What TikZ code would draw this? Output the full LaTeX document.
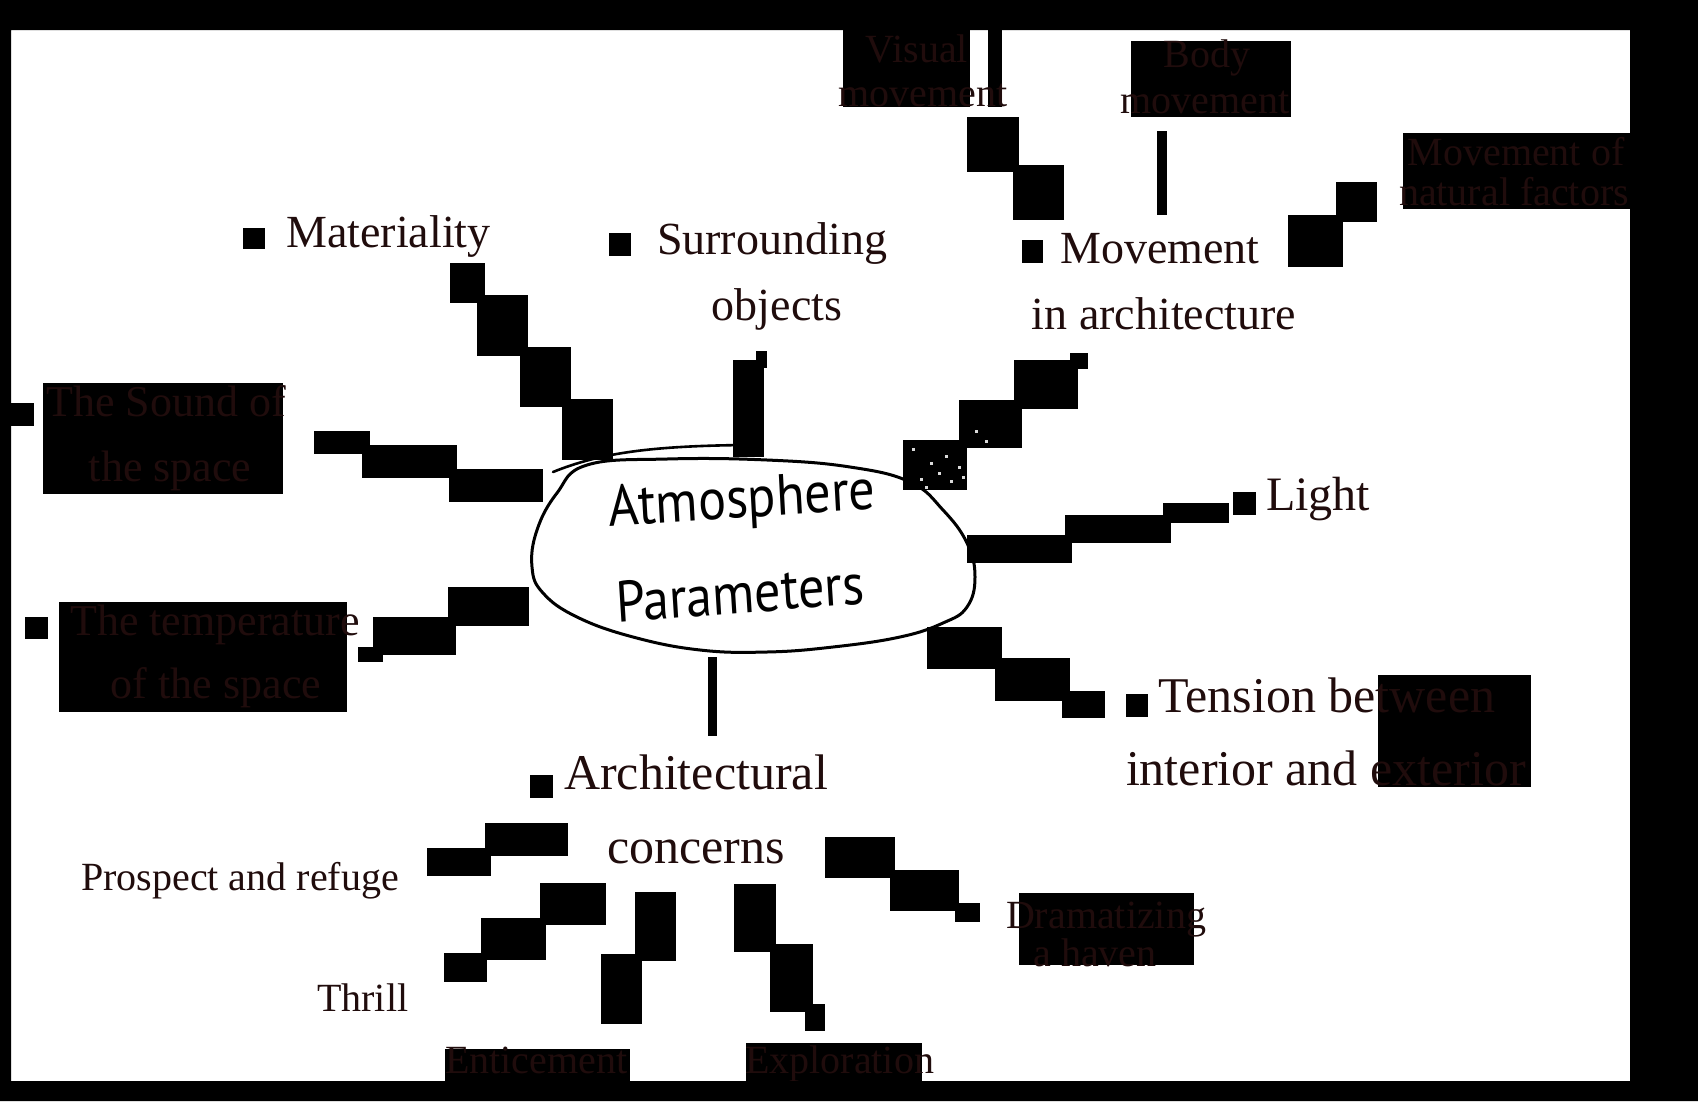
\documentclass[tikz,border=0pt]{standalone}
\usepackage{fontspec}
\setmainfont{Liberation Serif}
\newfontfamily\hand{PT Sans}
\definecolor{ink}{RGB}{32,12,12}
\tikzset{
  lbl/.style={text=ink, inner sep=0pt, anchor=base},
  lblw/.style={text=ink, inner sep=0pt, anchor=base west},
  fA/.style={font=\fontsize{40}{44}\selectfont},
  fB/.style={font=\fontsize{44}{48}\selectfont},
  fC/.style={font=\fontsize{46}{50}\selectfont},
  fD/.style={font=\fontsize{48}{52}\selectfont},
  fE/.style={font=\fontsize{50}{54}\selectfont},
  handtxt/.style={text=black, inner sep=0pt, font=\hand\fontsize{58}{60}\selectfont, xscale=0.9},
  outline/.style={line width=3pt, draw=black},
}
\begin{document}
\begin{tikzpicture}[x=1pt,y=-1pt]
\useasboundingbox (0,0) rectangle (1698,1101);
% background
\fill[white] (0,0) rectangle (1698,1101);
% text boxes, bullets and stepped connectors
\foreach \a/\b/\c/\d in {
  43/383/283/494, 59/602/347/712, 843/28/970/107, 988/28/1002/107,
  1131/41/1291/117, 1403/133/1630/209, 1378/675/1531/787, 1019/893/1194/965,
  445/1049/630/1082, 746/1043/922/1082,
  243/228/265/249, 609/233/631/256, 1022/240/1043/263, 1233/492/1256/515,
  1126/694/1148/717, 530/775/553/798, 5/403/34/426, 25/617/48/639,
  450/263/485/303, 477/295/528/356, 520/347/571/407, 562/399/613/460,
  733/360/764/457, 756/351/767/368,
  314/431/370/454, 362/445/457/478, 449/469/543/502,
  358/647/383/662, 373/617/456/655, 448/587/529/626,
  903/440/967/490, 959/400/1022/448, 1014/360/1078/409, 1070/353/1088/369,
  967/535/1072/563, 1065/515/1171/543, 1163/503/1229/523,
  927/627/1002/669, 995/658/1070/701, 1062/691/1105/718,
  708/657/717/736,
  967/117/1019/172, 1013/165/1064/220,
  1157/131/1167/215,
  1336/182/1377/222, 1288/215/1343/267,
  427/848/491/876, 485/823/568/856,
  444/953/487/982, 481/918/546/960, 540/883/606/925,
  635/892/676/961, 601/954/642/1024,
  734/884/776/952, 770/944/813/1012, 805/1004/825/1031,
  825/837/895/878, 890/870/959/911, 955/903/980/922}
  {\fill[black] (\a,\b) rectangle (\c,\d);}
% speckles on the movement connector
\foreach \px/\py in {912/448, 930/462, 945/455, 920/478, 950/480, 938/472, 958/466, 925/486, 985/440, 975/430, 962/476}
  {\fill[white!85!black] (\px,\py) rectangle ++(2.5,2.5);}
% labels
\node[lblw,fC] (mat) at (286,247) {Materiality};
\node[lbl,fC] (sur1) at (772,254) {Surrounding};
\node[lbl,fC] (sur2) at (777,320) {objects};
\node[lbl,fC] (mov1) at (1160,263) {Movement};
\node[lbl,fC] (mov2) at (1164,329) {in architecture};
\node[lblw,fD] (lig) at (1266,510) {Light};
\node[lbl,fE] (ten1) at (1327,712) {Tension between};
\node[lbl,fE] (ten2) at (1326,785) {interior and exterior};
\node[lbl,fE] (arc1) at (696,789) {Architectural};
\node[lbl,fE] (arc2) at (696,863) {concerns};
\node[lblw,fA] (pro) at (81,890) {Prospect and refuge};
\node[lblw,fA] (thr) at (317,1011) {Thrill};
\node[lblw,fA] (ent) at (445,1073) {Enticement};
\node[lblw,fA] (exp) at (745,1073) {Exploration};
\node[lbl,fA] (dra1) at (1106,928) {Dramatizing};
\node[lbl,fA] (dra2) at (1095,966) {a haven};
\node[lbl,fA] (vis1) at (917,62) {Visual};
\node[lbl,fA] (vis2) at (923,106) {movement};
\node[lbl,fA] (bod1) at (1207,67) {Body};
\node[lbl,fA] (bod2) at (1205,113) {movement};
\node[lbl,fA] (nat1) at (1516,165) {Movement of};
\node[lbl,fA] (nat2) at (1514,205) {natural factors};
\node[lbl,fB] (snd1) at (166,416) {The Sound of};
\node[lbl,fB] (snd2) at (170,481) {the space};
\node[lbl,fB] (tmp1) at (215,635) {The temperature};
\node[lbl,fB] (tmp2) at (216,698) {of the space};
% central hand-drawn ellipse
\draw[outline] plot[smooth cycle, tension=0.7] coordinates {
  (587,465) (667,459) (767,460) (850,467) (910,482) (943,510) (967,543)
  (975,577) (967,607) (943,623) (900,637) (833,647) (767,652) (700,650)
  (633,637) (577,617) (543,593) (532,567) (537,530) (557,493)};
\draw[line width=2.6pt, line cap=round] (553,472) .. controls (600,453) and (650,446) .. (745,445);
\draw[line width=2.2pt, line cap=round, line join=round] (737,440) -- (746,445) -- (737,450);
\node[handtxt, rotate=3.5] (atm) at (742,503) {Atmosphere};
\node[handtxt, rotate=4] (par) at (740,593) {Parameters};
% black frame
\fill[black, even odd rule] (0,0) rectangle (1698,1101) (11,30) rectangle (1630,1081);
\end{tikzpicture}
\end{document}
